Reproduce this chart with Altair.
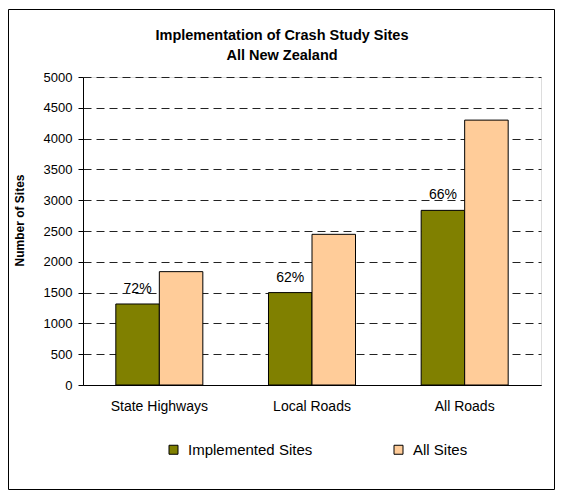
import altair as alt
import pandas as pd

categories = ["State Highways", "Local Roads", "All Roads"]
implemented = [1315, 1500, 2835]
all_sites = [1840, 2446, 4300]
percent_labels = ["72%", "62%", "66%"]
series_names = ["Implemented Sites", "All Sites"]
colors = ["#808000", "#FFCC99"]
y_ticks = [0, 500, 1000, 1500, 2000, 2500, 3000, 3500, 4000, 4500, 5000]

rows = []
for c, i, a in zip(categories, implemented, all_sites):
    rows.append({"Road": c, "Series": series_names[0], "Sites": i})
    rows.append({"Road": c, "Series": series_names[1], "Sites": a})
df = pd.DataFrame(rows)
lab = pd.DataFrame({"Road": categories, "Sites": implemented, "Pct": percent_labels,
                    "Series": [series_names[0]] * 3})

FONT = "Liberation Sans"

x_enc = alt.X("Road:N", sort=categories, title=None,
              scale=alt.Scale(paddingInner=0.43, paddingOuter=0.215),
              axis=alt.Axis(labelAngle=0, labelFontSize=14, labelColor="black",
                            ticks=False, domainColor="black", labelPadding=14,
                            labelFont=FONT))
y_enc = alt.Y("Sites:Q", title="Number of Sites",
              scale=alt.Scale(domain=[0, 5000], nice=False),
              axis=alt.Axis(values=y_ticks, format="d", labelFontSize=13,
                            labelColor="black", tickColor="black", tickSize=5,
                            domainColor="black", gridColor="#222", gridDash=[8, 5],
                            titleFontSize=12, titleFontWeight="bold", titleColor="black",
                            titlePadding=17, titleY=143, labelFont=FONT,
                            titleFont=FONT, labelPadding=6, labelOverlap=False))

bars = alt.Chart(df).mark_bar(stroke="black", strokeWidth=1).encode(
    x=x_enc,
    y=y_enc,
    xOffset=alt.XOffset("Series:N", sort=series_names),
    color=alt.Color("Series:N", sort=series_names,
                    scale=alt.Scale(domain=series_names, range=colors),
                    legend=alt.Legend(title=None, orient="none", direction="horizontal",
                                      legendX=83, legendY=365, symbolType="square",
                                      symbolSize=81, symbolStrokeColor="black",
                                      symbolStrokeWidth=1, labelFontSize=15,
                                      labelColor="black", labelFont=FONT,
                                      columnPadding=78, labelOffset=7)),
)

text = alt.Chart(lab).mark_text(baseline="middle", dy=-15, fontSize=14,
                                font=FONT, color="black").encode(
    x=alt.X("Road:N", sort=categories),
    y=y_enc,
    xOffset=alt.XOffset("Series:N", sort=series_names),
    text="Pct:N",
)

frame = alt.Chart(alt.Data(values=[{}])).mark_rect(
    fill=None, stroke="black", strokeWidth=1).encode(
    x=alt.value(-74.5), x2=alt.value(471.5),
    y=alt.value(-67.5), y2=alt.value(412.5),
)

chart = alt.layer(bars, text, frame).properties(
    width=458, height=308,
    title=alt.TitleParams(["Implementation of Crash Study Sites", "All New Zealand"],
                          fontSize=14.5, fontWeight="bold", font=FONT,
                          color="black", anchor="middle", dx=-30, offset=0, dy=54,
                          lineHeight=20),
    autosize=alt.AutoSizeParams(type="none"),
    padding={"left": 75, "top": 69, "right": 14, "bottom": 106},
).configure_view(stroke="#808080", strokeWidth=1).configure(background="white")

chart.save("out.html", embed_options={"renderer": "svg", "actions": False})
